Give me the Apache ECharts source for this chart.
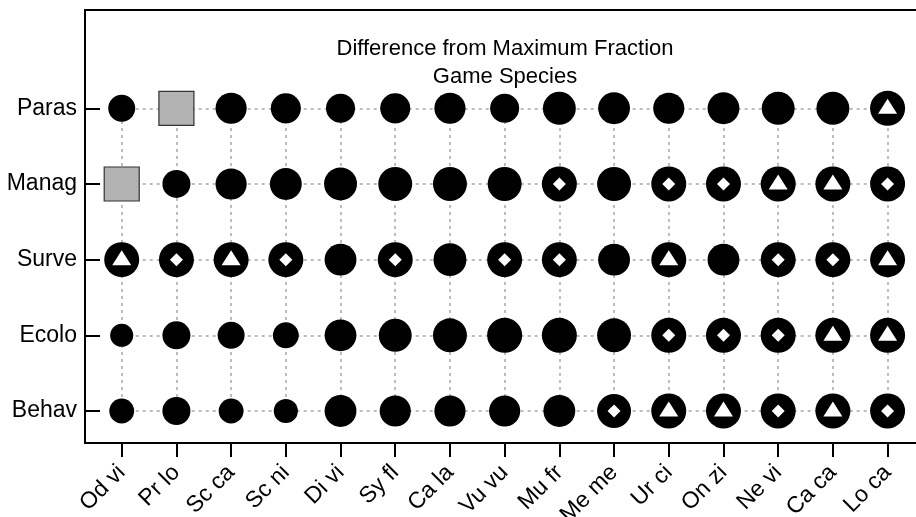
<!DOCTYPE html>
<html>
  <head>
    <meta charset="UTF-8" />
    <title>Difference from Maximum Fraction</title>
    <style type="text/css">
      html,
      body {
        width: 100%;
        height: 100%;
        margin: 0;
        padding: 0;
        overflow: hidden;
        background: #fff;
      }
      #chart {
        width: 916px;
        height: 517px;
      }
    </style>
  </head>
  <body>
    <div id="chart"></div>
    <script
      type="text/javascript"
      src="https://cdn.jsdelivr.net/npm/echarts@6/dist/echarts.min.js"
    ></script>
    <script type="text/javascript">
      const species = [
        "Od vi", "Pr lo", "Sc ca", "Sc ni", "Di vi", "Sy fl", "Ca la", "Vu vu",
        "Mu fr", "Me me", "Ur ci", "On zi", "Ne vi", "Ca ca", "Lo ca",
      ];
      // bottom to top
      const aspects = ["Behav", "Ecolo", "Surve", "Manag", "Paras"];

      // fraction of the maximum (null = no data)
      const behav = [0.71, 0.8, 0.71, 0.69, 0.91, 0.89, 0.89, 0.89, 0.91, 0.97, 1, 1, 1, 1, 1];
      const ecolo = [0.66, 0.8, 0.77, 0.74, 0.91, 0.94, 0.97, 1, 1, 0.97, 1, 1, 1, 1, 1];
      const surve = [1, 1, 1, 1, 0.91, 1, 0.94, 1, 1, 0.91, 1, 0.91, 1, 1, 1];
      const manag = [null, 0.8, 0.89, 0.91, 0.94, 0.97, 0.97, 0.97, 1, 0.97, 1, 1, 1, 1, 1];
      const paras = [0.77, null, 0.89, 0.86, 0.83, 0.86, 0.89, 0.83, 0.94, 0.91, 0.89, 0.91, 0.94, 0.94, 1];

      // 0 = none, 1 = diamond, 2 = triangle
      const behavMark = [0, 0, 0, 0, 0, 0, 0, 0, 0, 1, 2, 2, 1, 2, 1];
      const ecoloMark = [0, 0, 0, 0, 0, 0, 0, 0, 0, 0, 1, 1, 1, 2, 2];
      const surveMark = [2, 1, 2, 1, 0, 1, 0, 1, 1, 0, 2, 0, 1, 1, 2];
      const managMark = [0, 0, 0, 0, 0, 0, 0, 0, 1, 0, 1, 1, 2, 2, 1];
      const parasMark = [0, 0, 0, 0, 0, 0, 0, 0, 0, 0, 0, 0, 0, 0, 2];

      const rows = [behav, ecolo, surve, manag, paras];
      const marks = [behavMark, ecoloMark, surveMark, managMark, parasMark];

      const circles = [];
      const missing = [];
      const diamonds = [];
      const triangles = [];
      rows.forEach((row, j) => {
        row.forEach((v, i) => {
          if (v === null) {
            missing.push([i, j]);
          } else {
            circles.push([i, j, v]);
          }
          if (marks[j][i] === 1) diamonds.push([i, j]);
          if (marks[j][i] === 2) triangles.push([i, j]);
        });
      });

      const gridLines = [];
      species.forEach((s, i) => {
        gridLines.push([{ coord: [i, 0] }, { coord: [i, aspects.length - 1] }]);
      });
      aspects.forEach((a, j) => {
        gridLines.push([{ coord: [0, j] }, { coord: [species.length - 1, j] }]);
      });

      const font = "Liberation Sans, Arial, Helvetica, sans-serif";
      const xTicks = species.map((s, i) => i);
      const yTicks = aspects.map((a, i) => i);

      const chart = echarts.init(document.getElementById("chart"));
      chart.setOption({
        animation: false,
        backgroundColor: "#fff",
        title: {
          text: "Difference from Maximum Fraction\nGame Species",
          left: 505,
          top: 35,
          padding: 0,
          textAlign: "center",
          textStyle: {
            fontFamily: font,
            fontSize: 22,
            fontWeight: "normal",
            lineHeight: 28,
            color: "#000",
          },
        },
        grid: {
          left: 85,
          top: 10,
          width: 839.3,
          height: 433,
          outerBoundsMode: "none",
          containLabel: false,
        },
        xAxis: [
          {
            type: "value",
            min: -0.671,
            max: 14.671,
            axisLine: { show: true, onZero: false, lineStyle: { color: "#000", width: 2 } },
            axisTick: {
              show: true,
              customValues: xTicks,
              length: 14,
              lineStyle: { color: "#000", width: 2 },
            },
            axisLabel: {
              customValues: xTicks,
              rotate: 45,
              margin: 26,
              fontFamily: font,
              fontSize: 23,
              color: "#000",
              formatter: (v) => species[Math.round(v)],
            },
            splitLine: { show: false },
          },
          {
            type: "value",
            position: "top",
            min: -0.671,
            max: 14.671,
            axisLine: { show: true, onZero: false, lineStyle: { color: "#000", width: 2 } },
            axisTick: { show: false },
            axisLabel: { show: false },
            splitLine: { show: false },
          },
        ],
        yAxis: {
          type: "value",
          min: -0.423,
          max: 5.299,
          axisLine: { show: true, onZero: false, lineStyle: { color: "#000", width: 2 } },
          axisTick: {
            show: true,
            inside: true,
            customValues: yTicks,
            length: 15,
            lineStyle: { color: "#000", width: 2 },
          },
          axisLabel: {
            customValues: yTicks,
            margin: 8,
            fontFamily: font,
            fontSize: 23,
            color: "#000",
            formatter: (v) => aspects[Math.round(v)],
          },
          splitLine: { show: false },
        },
        series: [
          {
            name: "grid",
            type: "scatter",
            data: [],
            z: 1,
            markLine: {
              silent: true,
              z: 1,
              symbol: "none",
              label: { show: false },
              lineStyle: { color: "#a6a6a6", width: 1.5, type: [3, 4] },
              data: gridLines,
            },
          },
          {
            name: "fraction",
            type: "scatter",
            z: 2,
            symbol: "circle",
            symbolSize: (v) => 35 * v[2],
            itemStyle: { color: "#000", opacity: 1 },
            data: circles,
          },
          {
            name: "no data",
            type: "scatter",
            z: 2,
            symbol: "rect",
            symbolSize: [35, 34],
            itemStyle: { color: "#b3b3b3", borderColor: "#333", borderWidth: 1.2, opacity: 1 },
            data: missing,
          },
          {
            name: "diamond",
            type: "scatter",
            z: 3,
            symbol: "diamond",
            symbolSize: 13,
            itemStyle: { color: "#fff", opacity: 1 },
            data: diamonds,
          },
          {
            name: "triangle",
            type: "scatter",
            z: 3,
            symbol: "triangle",
            symbolSize: [19, 15],
            symbolOffset: [0, -2],
            itemStyle: { color: "#fff", opacity: 1 },
            data: triangles,
          },
        ],
      });
    </script>
  </body>
</html>
